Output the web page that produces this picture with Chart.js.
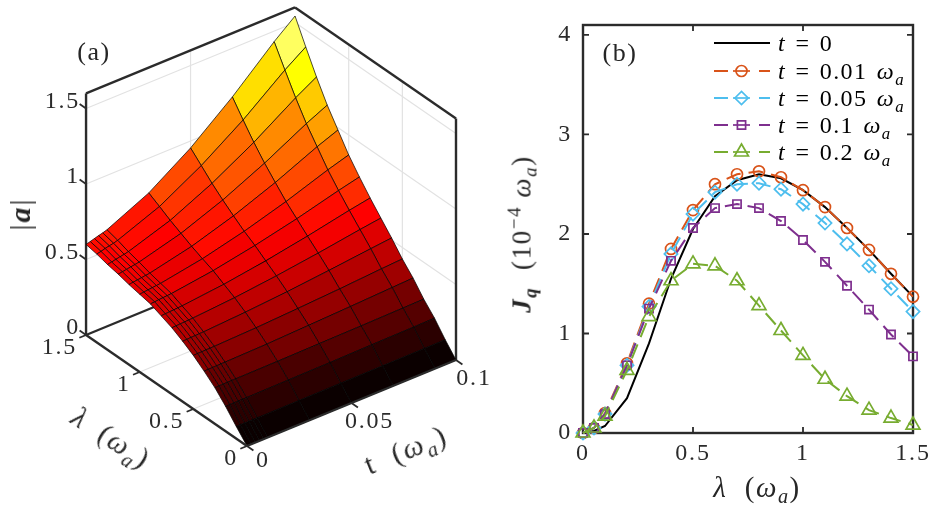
<!DOCTYPE html>
<html>
<head>
<meta charset="utf-8">
<script src="https://cdn.jsdelivr.net/npm/chart.js@4/dist/chart.umd.js"></script>
<style>
  html, body { margin: 0; padding: 0; background: #fff; }
  #page { position: relative; width: 930px; height: 511px; overflow: hidden; font-family: "Liberation Serif", serif; color: #262626; }
  canvas { position: absolute; top: 0; }
  #surface { left: 0; }
  #lines { left: 500px; }
  .lbl { position: absolute; white-space: nowrap; transform: translate(-50%, -50%); font-size: 24px; line-height: 1; }
  .lbl sub { font-size: 0.7em; line-height: 0; }
  .lbl sup { font-size: 0.7em; line-height: 0; }
  .leg { position: absolute; left: 778px; white-space: nowrap; transform: translateY(-50%); font-size: 24px; line-height: 1; letter-spacing: 1.4px; word-spacing: 2px; color: #000; }
  .leg sub { font-size: 0.7em; line-height: 0; }
</style>
</head>
<body>
<div id="page">
  <canvas id="surface" width="500" height="511"></canvas>
  <canvas id="lines" width="430" height="511"></canvas>

  <span class="lbl" style="left:94px;top:52px;font-size:26px;letter-spacing:1.5px">(a)</span>
  <span class="lbl" style="left:620px;top:53px;font-size:26px;letter-spacing:1.5px">(b)</span>
  <span class="lbl" style="left:20px;top:214px;font-size:30px;letter-spacing:2px;transform:translate(-50%,-50%) rotate(-90deg)">|<b><i>a</i></b>|</span>
  <span class="lbl" style="left:111px;top:438px;font-size:29px;letter-spacing:1.5px;transform:translate(-50%,-50%) rotate(33deg)"><i>λ</i>&nbsp; (<i>ω</i><sub><i>a</i></sub>)</span>
  <span class="lbl" style="left:406px;top:450px;font-size:29px;letter-spacing:2px;transform:translate(-50%,-50%) rotate(-22deg)">t&nbsp; (<i>ω</i><sub><i>a</i></sub>)</span>
  <span class="lbl" style="left:522px;top:234px;font-size:27px;letter-spacing:1.6px;transform:translate(-50%,-50%) rotate(-90deg)"><b><i>J</i></b><sub><b><i>q</i></b></sub>&nbsp; (10<sup>−4</sup> <i>ω</i><sub><i>a</i></sub>)</span>
  <span class="lbl" style="left:757px;top:487px;font-size:29px;letter-spacing:1.5px"><i>λ</i>&nbsp; (<i>ω</i><sub><i>a</i></sub>)</span>

  <span class="leg" style="top:43px"><i>t</i> = 0</span>
  <span class="leg" style="top:71px"><i>t</i> = 0.01 <i>ω</i><sub><i>a</i></sub></span>
  <span class="leg" style="top:98px"><i>t</i> = 0.05 <i>ω</i><sub><i>a</i></sub></span>
  <span class="leg" style="top:125px"><i>t</i> = 0.1 <i>ω</i><sub><i>a</i></sub></span>
  <span class="leg" style="top:152px"><i>t</i> = 0.2 <i>ω</i><sub><i>a</i></sub></span>
</div>

<script>
// panel (a): |a|, one array per t, in lambdaGrid order
const lambdaGrid = [0, 0.1, 0.2, 0.3, 0.4, 0.5, 0.6, 0.7, 0.8, 0.9, 1.0, 1.1, 1.2, 1.3, 1.4, 1.5];
const tGrid = [0, 0.002, 0.004, 0.006, 0.008, 0.01, 0.03, 0.05, 0.07, 0.09, 0.1];
const a_t0000 = [0, 0.08, 0.165, 0.24, 0.30, 0.355, 0.40, 0.44, 0.47, 0.50, 0.515, 0.53, 0.55, 0.565, 0.585, 0.60];
const a_t0002 = [0, 0.08, 0.165, 0.24, 0.30, 0.356, 0.401, 0.441, 0.472, 0.502, 0.518, 0.534, 0.554, 0.57, 0.591, 0.608];
const a_t0004 = [0, 0.08, 0.165, 0.24, 0.301, 0.356, 0.402, 0.443, 0.474, 0.505, 0.521, 0.538, 0.559, 0.576, 0.599, 0.616];
const a_t0006 = [0, 0.08, 0.165, 0.24, 0.301, 0.357, 0.403, 0.444, 0.475, 0.507, 0.524, 0.541, 0.564, 0.582, 0.605, 0.624];
const a_t0008 = [0, 0.08, 0.165, 0.241, 0.302, 0.357, 0.404, 0.445, 0.477, 0.509, 0.527, 0.545, 0.568, 0.587, 0.611, 0.631];
const a_t0010 = [0, 0.08, 0.165, 0.241, 0.302, 0.358, 0.405, 0.447, 0.479, 0.511, 0.53, 0.549, 0.573, 0.593, 0.619, 0.64];
const a_t0030 = [0, 0.081, 0.168, 0.243, 0.308, 0.367, 0.421, 0.468, 0.508, 0.549, 0.579, 0.612, 0.649, 0.686, 0.729, 0.77];
const a_t0050 = [0, 0.082, 0.17, 0.246, 0.318, 0.381, 0.443, 0.499, 0.549, 0.602, 0.647, 0.70, 0.756, 0.817, 0.886, 0.954];
const a_t0070 = [0, 0.083, 0.174, 0.25, 0.329, 0.397, 0.47, 0.536, 0.599, 0.665, 0.73, 0.807, 0.886, 0.975, 1.074, 1.178];
const a_t0090 = [0, 0.084, 0.177, 0.254, 0.341, 0.416, 0.50, 0.578, 0.656, 0.738, 0.826, 0.93, 1.034, 1.156, 1.291, 1.43];
const a_t0100 = [0, 0.085, 0.179, 0.256, 0.347, 0.424, 0.514, 0.597, 0.681, 0.771, 0.868, 0.984, 1.10, 1.237, 1.387, 1.543];
const surfaceRows = [a_t0000, a_t0002, a_t0004, a_t0006, a_t0008, a_t0010, a_t0030, a_t0050, a_t0070, a_t0090, a_t0100];

const zTicks = [0, 0.5, 1, 1.5];
const lambdaTicks = [0, 0.5, 1, 1.5];
const tTicks = [0, 0.05, 0.1];

// panel (b)
const lambdaVals = [0, 0.05, 0.1, 0.2, 0.3, 0.4, 0.5, 0.6, 0.7, 0.8, 0.9, 1.0, 1.1, 1.2, 1.3, 1.4, 1.5];
const jq_t0 = [0, 0.02, 0.07, 0.35, 0.9, 1.55, 2.05, 2.38, 2.54, 2.6, 2.56, 2.44, 2.27, 2.06, 1.84, 1.6, 1.37];
const jq_t001 = [0, 0.05, 0.2, 0.7, 1.3, 1.85, 2.24, 2.5, 2.6, 2.63, 2.57, 2.44, 2.27, 2.06, 1.84, 1.6, 1.37];
const jq_t005 = [0, 0.05, 0.19, 0.68, 1.27, 1.8, 2.2, 2.42, 2.5, 2.51, 2.45, 2.3, 2.11, 1.9, 1.68, 1.45, 1.22];
const jq_t01 = [0, 0.05, 0.19, 0.68, 1.25, 1.73, 2.06, 2.26, 2.3, 2.26, 2.13, 1.94, 1.72, 1.48, 1.24, 0.99, 0.77];
const jq_t02 = [0, 0.05, 0.17, 0.63, 1.17, 1.53, 1.7, 1.68, 1.53, 1.28, 1.03, 0.78, 0.54, 0.37, 0.23, 0.15, 0.08];
const xTicksB = [0, 0.5, 1, 1.5];
const yTicksB = [0, 1, 2, 3, 4];

const AXIS = '#2b2b2b';
const GRID = '#e2e2e2';
const TICK_FONT = '24px "Liberation Serif", serif';
const AXIS_W = 2.4;

// 3d view of panel (a), values end up on the chart's x/y scales
function project(lam, t, z) {
  return { x: 247 - 107.3 * lam + 2090 * t, y: 446 - 74 * lam - 860 * t - 151 * z };
}

// matlab hot(64)
function hot(f) {
  const i = Math.min(63, Math.max(0, Math.floor(f * 64)));
  const r = Math.min(1, (i + 1) / 24);
  const g = i < 24 ? 0 : Math.min(1, (i - 23) / 24);
  const b = i < 48 ? 0 : (i - 47) / 16;
  return `rgb(${Math.round(r * 255)},${Math.round(g * 255)},${Math.round(b * 255)})`;
}

const surfaceSets = [];
const ZMAX = 1.543, ZTOP = 1.6;

function seg(a, b, color, width, order) {
  surfaceSets.push({ data: [a, b], showLine: true, borderColor: color, borderWidth: width, pointRadius: 0, fill: false, clip: false, order });
}

// back walls and floor grid
zTicks.slice(1).forEach(z => {
  seg(project(1.5, 0, z), project(1.5, 0.1, z), GRID, 1.2, 2000);
  seg(project(1.5, 0.1, z), project(0, 0.1, z), GRID, 1.2, 2000);
});
seg(project(1.5, 0.05, 0), project(1.5, 0.05, ZTOP), GRID, 1.2, 2000);
[1, 0.5].forEach(l => seg(project(l, 0.1, 0), project(l, 0.1, ZTOP), GRID, 1.2, 2000));
[1, 0.5].forEach(l => seg(project(l, 0, 0), project(l, 0.1, 0), GRID, 1.2, 2000));
seg(project(0, 0.05, 0), project(1.5, 0.05, 0), GRID, 1.2, 2000);

// box lines behind the surface
seg(project(1.5, 0, 0), project(1.5, 0.1, 0), AXIS, AXIS_W, 1900);
seg(project(1.5, 0, 0), project(1.5, 0, ZTOP), AXIS, AXIS_W, 1900);
seg(project(1.5, 0, ZTOP), project(1.5, 0.1, ZTOP), AXIS, AXIS_W, 1900);
seg(project(1.5, 0.1, ZTOP), project(0, 0.1, ZTOP), AXIS, AXIS_W, 1900);
seg(project(0, 0.1, ZTOP), project(0, 0.1, 0), AXIS, AXIS_W, 1900);

// surface cells, far ones painted first
for (let j = 0; j < tGrid.length - 1; j++) {
  for (let i = 0; i < lambdaGrid.length - 1; i++) {
    const p = (a, b) => project(lambdaGrid[a], tGrid[b], surfaceRows[b][a]);
    surfaceSets.push({
      data: [p(i, j), p(i + 1, j), p(i + 1, j + 1), p(i, j + 1), p(i, j)],
      showLine: true,
      borderColor: '#000',
      borderWidth: 0.7,
      backgroundColor: hot(surfaceRows[j][i] / ZMAX),
      fill: 'shape',
      pointRadius: 0,
      tension: 0,
      clip: false,
      order: 10 + i + j
    });
  }
}

// front axes and ticks on top
seg(project(0, 0, 0), project(1.5, 0, 0), AXIS, AXIS_W, 1);
seg(project(0, 0, 0), project(0, 0.1, 0), AXIS, AXIS_W, 1);
zTicks.forEach(z => seg(project(1.5, 0, z), project(1.56, 0, z), AXIS, 1.8, 1));
lambdaTicks.forEach(l => seg(project(l, 0, 0), project(l, -0.0032, 0), AXIS, 1.8, 1));
tTicks.forEach(t => seg(project(0, t, 0), project(-0.06, t, 0), AXIS, 1.8, 1));

const surfaceLabels = {
  id: 'surfaceLabels',
  afterDatasetsDraw(chart) {
    const { ctx, scales: { x, y } } = chart;
    ctx.save();
    ctx.font = TICK_FONT;
    ctx.letterSpacing = '1.8px';
    ctx.fillStyle = AXIS;
    ctx.textBaseline = 'middle';
    const put = (s, pos, dx, dy, align) => {
      ctx.textAlign = align;
      ctx.fillText(s, x.getPixelForValue(pos.x) + dx, y.getPixelForValue(pos.y) + dy);
    };
    zTicks.forEach(z => put(String(z), project(1.5, 0, z), -6, -7, 'right'));
    lambdaTicks.forEach(l => put(String(l), project(l, 0, 0), -9, 13, 'right'));
    tTicks.forEach(t => put(String(t), project(0, t, 0), t === 0 ? 16 : 18, t === 0 ? 15 : 19, 'center'));
    ctx.restore();
  }
};

new Chart(document.getElementById('surface'), {
  type: 'scatter',
  data: { datasets: surfaceSets },
  options: {
    responsive: false,
    animation: false,
    events: [],
    layout: { padding: 0 },
    plugins: { legend: { display: false }, tooltip: { enabled: false } },
    scales: {
      x: { type: 'linear', min: 0, max: 500, display: false },
      y: { type: 'linear', min: 0, max: 511, reverse: true, display: false }
    }
  },
  plugins: [surfaceLabels]
});

// panel (b)
const COLORS = ['#000000', '#D95319', '#4DBEEE', '#7E2F8E', '#77AC30'];
const MARKERS = [false, 'circle', 'rectRot', 'rect', 'triangle'];
const RADII = [0, 5.5, 6.6, 5.8, 8];
const NAMES = ['t = 0', 't = 0.01 ωa', 't = 0.05 ωa', 't = 0.1 ωa', 't = 0.2 ωa'];
const SERIES = [jq_t0, jq_t001, jq_t005, jq_t01, jq_t02];

const boxAndLegend = {
  id: 'boxAndLegend',
  beforeDraw(chart) {
    chart.ctx.letterSpacing = '1.8px';
  },
  beforeDatasetsDraw(chart) {
    const { ctx, chartArea: a, scales: { x, y } } = chart;
    ctx.save();
    ctx.strokeStyle = AXIS;
    ctx.lineWidth = AXIS_W;
    ctx.strokeRect(a.left, a.top, a.right - a.left, a.bottom - a.top);
    ctx.lineWidth = 1.8;
    ctx.beginPath();
    xTicksB.forEach(v => {
      const px = x.getPixelForValue(v);
      ctx.moveTo(px, a.bottom); ctx.lineTo(px, a.bottom - 6);
      ctx.moveTo(px, a.top); ctx.lineTo(px, a.top + 6);
    });
    yTicksB.forEach(v => {
      const py = y.getPixelForValue(v);
      ctx.moveTo(a.left, py); ctx.lineTo(a.left + 6, py);
      ctx.moveTo(a.right, py); ctx.lineTo(a.right - 6, py);
    });
    ctx.stroke();
    ctx.restore();
  },
  afterDatasetsDraw(chart) {
    const { ctx } = chart;
    const rows = [43, 71, 98, 125, 152];
    chart.data.datasets.forEach((ds, i) => {
      ctx.save();
      ctx.strokeStyle = ds.borderColor;
      ctx.lineWidth = ds.borderWidth;
      ctx.beginPath();
      if (i === 0) {
        ctx.moveTo(214, rows[i]); ctx.lineTo(270, rows[i]);
      } else {
        ctx.moveTo(214, rows[i]); ctx.lineTo(228, rows[i]);
        ctx.moveTo(259, rows[i]); ctx.lineTo(270, rows[i]);
      }
      ctx.stroke();
      if (ds.pointStyle) {
        ctx.lineWidth = ds.pointBorderWidth;
        Chart.helpers.drawPoint(ctx, { pointStyle: ds.pointStyle, radius: ds.pointRadius, borderWidth: ds.pointBorderWidth, rotation: 0 }, 241.5, rows[i]);
        ctx.beginPath();
        ctx.moveTo(233, rows[i]); ctx.lineTo(250, rows[i]);
        ctx.stroke();
      }
      ctx.restore();
    });
  }
};

new Chart(document.getElementById('lines'), {
  type: 'scatter',
  data: {
    datasets: SERIES.map((vals, i) => ({
      label: NAMES[i],
      data: lambdaVals.map((l, k) => ({ x: l, y: vals[k] })),
      showLine: true,
      borderColor: COLORS[i],
      borderWidth: 2,
      borderDash: i === 0 ? [] : [15, 8],
      pointStyle: MARKERS[i],
      pointRadius: RADII[i],
      pointBorderColor: COLORS[i],
      pointBorderWidth: 1.7,
      pointBackgroundColor: 'rgba(0,0,0,0)',
      clip: false,
      order: 5 - i
    }))
  },
  options: {
    responsive: false,
    animation: false,
    events: [],
    layout: { padding: { top: 25, right: 17, left: 0, bottom: 0 } },
    plugins: { legend: { display: false }, tooltip: { enabled: false } },
    scales: {
      x: {
        type: 'linear', min: 0, max: 1.5,
        afterBuildTicks: s => { s.ticks = xTicksB.map(v => ({ value: v })); },
        afterFit: s => { s.height = 78; },
        grid: { display: false },
        border: { display: false },
        ticks: { color: AXIS, font: { family: '"Liberation Serif", serif', size: 24 }, padding: -2, maxRotation: 0, callback: v => String(v) }
      },
      y: {
        type: 'linear', min: 0, max: 4.1,
        afterBuildTicks: s => { s.ticks = yTicksB.map(v => ({ value: v })); },
        afterFit: s => { s.width = 83; },
        grid: { display: false },
        border: { display: false },
        ticks: { color: AXIS, font: { family: '"Liberation Serif", serif', size: 24 }, padding: 3, callback: v => String(v) }
      }
    }
  },
  plugins: [boxAndLegend]
});
</script>
</body>
</html>
